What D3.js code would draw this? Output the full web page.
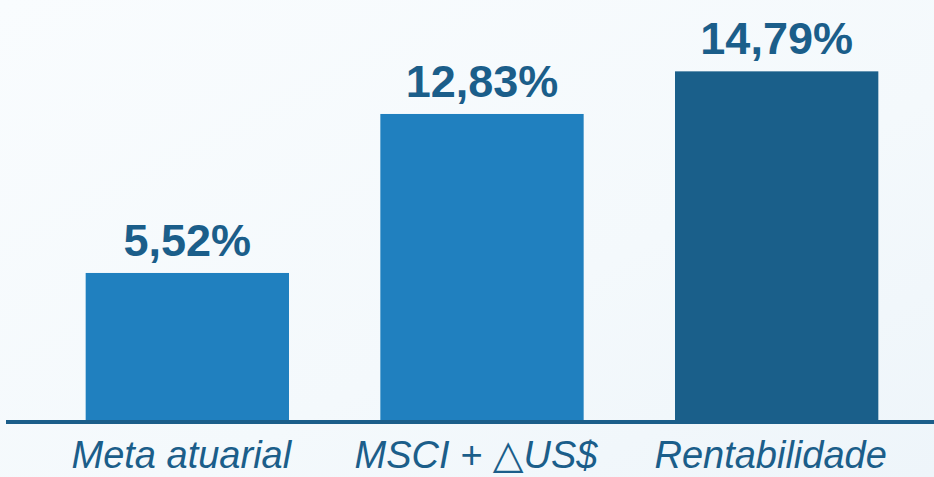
<!DOCTYPE html>
<html>
<head>
<meta charset="utf-8">
<script src="https://cdn.jsdelivr.net/npm/d3@7"></script>
<style>
  html, body { margin: 0; padding: 0; }
  body { width: 934px; height: 477px; overflow: hidden; }
</style>
</head>
<body>
<div id="chart"></div>
<script>
const categories = ["Meta atuarial", "MSCI + \u25B3US$", "Rentabilidade"];
const values = [5.52, 12.83, 14.79];
const barColors = ["#2080bf", "#2080bf", "#1a5f8a"];

const width = 934;
const height = 477;
const baseline = 420;
const textColor = "#1b5e8a";
const font = "'Liberation Sans', Arial, sans-serif";

const svg = d3.select("#chart").append("svg")
    .attr("width", width)
    .attr("height", height);

// pale background
const grad = svg.append("defs").append("linearGradient")
    .attr("id", "bg")
    .attr("x1", 0).attr("y1", 0).attr("x2", 1).attr("y2", 1);
grad.append("stop").attr("offset", "0%").attr("stop-color", "#f9fcfe");
grad.append("stop").attr("offset", "60%").attr("stop-color", "#f4f9fc");
grad.append("stop").attr("offset", "100%").attr("stop-color", "#eef5fa");
svg.append("rect")
    .attr("width", width)
    .attr("height", height)
    .attr("fill", "url(#bg)");

const x = d3.scaleBand()
    .domain(categories)
    .range([40, 924])
    .paddingInner(0.31)
    .paddingOuter(0.155);

const y = d3.scaleLinear()
    .domain([-1.24, 16])
    .range([baseline, baseline - 17.24 * 21.75]);

const fmt = v => d3.format(".2f")(v).replace(".", ",") + "%";

const data = categories.map((c, i) => ({cat: c, value: values[i], color: barColors[i]}));

svg.selectAll("rect.bar")
    .data(data)
  .enter().append("rect")
    .attr("class", "bar")
    .attr("x", d => x(d.cat))
    .attr("y", d => y(d.value))
    .attr("width", x.bandwidth())
    .attr("height", d => baseline - y(d.value))
    .attr("fill", d => d.color);

// baseline
svg.append("line")
    .attr("x1", 6)
    .attr("x2", width)
    .attr("y1", baseline + 2)
    .attr("y2", baseline + 2)
    .attr("stroke", "#1b5e8a")
    .attr("stroke-width", 4);

// value labels
svg.selectAll("text.value")
    .data(data)
  .enter().append("text")
    .attr("class", "value")
    .attr("x", d => x(d.cat) + x.bandwidth() / 2)
    .attr("y", d => y(d.value) - 17)
    .attr("text-anchor", "middle")
    .style("font-family", font)
    .style("font-weight", "bold")
    .style("font-size", "45px")
    .attr("fill", textColor)
    .text(d => fmt(d.value));

// category labels (the delta sign is drawn larger, upright)
const cats = svg.selectAll("text.cat")
    .data(data)
  .enter().append("text")
    .attr("class", "cat")
    .attr("x", d => x(d.cat) + x.bandwidth() / 2 - 6)
    .attr("y", 468)
    .attr("text-anchor", "middle")
    .style("font-family", font)
    .style("font-style", "italic")
    .style("font-size", "38px")
    .attr("fill", textColor);

cats.each(function(d) {
  const parts = d.cat.split("\u25B3");
  const t = d3.select(this);
  parts.forEach((p, i) => {
    if (i > 0) {
      t.append("tspan")
        .style("font-family", "'DejaVu Sans', sans-serif")
        .style("font-style", "normal")
        .style("font-size", "40px")
        .text("\u25B3");
    }
    t.append("tspan").text(p);
  });
});
</script>
</body>
</html>
